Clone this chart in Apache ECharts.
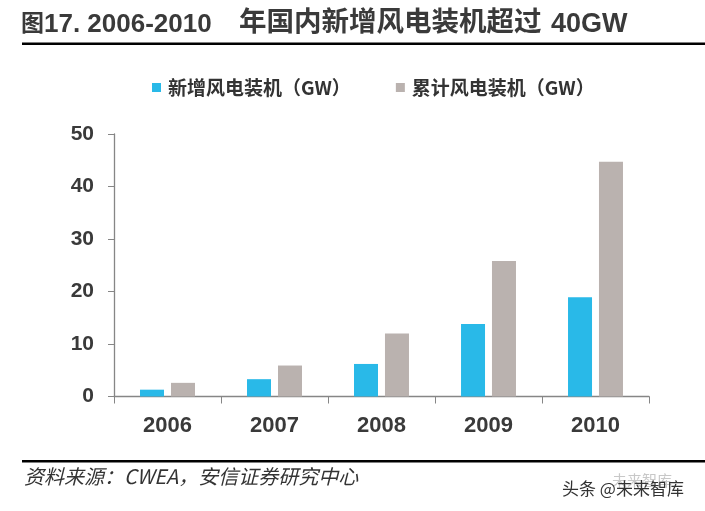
<!DOCTYPE html>
<html>
<head>
<meta charset="utf-8">
<script src="https://cdn.jsdelivr.net/npm/echarts@6/dist/echarts.min.js"></script>
<style>
html,body{margin:0;padding:0;background:#fff;}
#c{width:705px;height:511px;}
</style>
</head>
<body>
<div id="c"></div>
<script>
var categories = ['2006', '2007', '2008', '2009', '2010'];
var newCapacity = [1.3, 3.3, 6.2, 13.8, 18.9];
var cumCapacity = [2.6, 5.9, 12.0, 25.8, 44.7];
var seriesNames = ['新增风电装机（GW）', '累计风电装机（GW）'];
var yTicks = { min: 0, max: 50, interval: 10 };

var CJK = "'Noto Sans CJK SC', sans-serif";
var LAT = "'Liberation Sans', Arial, sans-serif";

var chart = echarts.init(document.getElementById('c'));
chart.setOption({
  animation: false,
  backgroundColor: '#fff',
  grid: { left: 114, right: 56, top: 134, bottom: 114.5, containLabel: false },
  legend: {
    data: seriesNames,
    left: 147, top: 73,
    icon: 'rect', itemWidth: 9, itemHeight: 9, itemGap: 45,
    textStyle: { fontSize: 19, fontWeight: 'bold', color: '#333', fontFamily: CJK, padding: [0, 0, 0, 2] }
  },
  xAxis: {
    type: 'category', data: categories,
    axisLine: { lineStyle: { color: '#868686', width: 1.3 } },
    axisTick: { show: true, length: 7, lineStyle: { color: '#868686' } },
    axisLabel: { fontSize: 22, fontWeight: 'bold', color: '#3a3a3a', margin: 18, fontFamily: LAT }
  },
  yAxis: {
    type: 'value', min: yTicks.min, max: yTicks.max, interval: yTicks.interval,
    axisLine: { show: true, lineStyle: { color: '#868686', width: 1.3 } },
    axisTick: { show: true, length: 6, lineStyle: { color: '#868686' } },
    splitLine: { show: false },
    axisLabel: { fontSize: 21, fontWeight: 'bold', color: '#3a3a3a', margin: 20, fontFamily: LAT }
  },
  series: [
    { name: seriesNames[0], type: 'bar', data: newCapacity, barWidth: 24, barGap: '29%',
      itemStyle: { color: '#29B9E8' } },
    { name: seriesNames[1], type: 'bar', data: cumCapacity, barWidth: 24, barGap: '29%',
      itemStyle: { color: '#BAB2AF' } }
  ],
  graphic: [
    { type: 'text', x: 21, y: 22,
      style: { text: '图', fontSize: 23, fontWeight: 'bold', fill: '#3a3a3a', fontFamily: CJK, verticalAlign: 'middle' } },
    { type: 'text', x: 44, y: 25,
      style: { text: '17. 2006-2010', fontSize: 26, fontWeight: 'bold', fill: '#3a3a3a', fontFamily: LAT, verticalAlign: 'middle' } },
    { type: 'text', x: 239, y: 21,
      style: { text: '年国内新增风电装机超过', fontSize: 27.5, fontWeight: 'bold', fill: '#3a3a3a', fontFamily: CJK, verticalAlign: 'middle' } },
    { type: 'text', x: 551, y: 25,
      style: { text: '40GW', fontSize: 27, fontWeight: 'bold', fill: '#3a3a3a', fontFamily: LAT, verticalAlign: 'middle' } },
    { type: 'rect', shape: { x: 22, y: 42.5, width: 683, height: 2.5 }, style: { fill: '#000' } },
    { type: 'rect', shape: { x: 22, y: 460, width: 683, height: 2.5 }, style: { fill: '#000' } },
    { type: 'text', x: 24, y: 476,
      style: { text: '资料来源：CWEA，安信证券研究中心', fontSize: 20, fontStyle: 'italic', fill: '#333',
        fontFamily: CJK, verticalAlign: 'middle' } },
    { type: 'text', x: 612, y: 480,
      style: { text: '未来智库', fontSize: 15, fill: '#c8c8c8', fontFamily: CJK, verticalAlign: 'middle' } },
    { type: 'text', x: 562, y: 489,
      style: { text: '头条 @未来智库', fontSize: 17, fill: '#333', fontFamily: CJK, verticalAlign: 'middle' } }
  ]
});
</script>
</body>
</html>
